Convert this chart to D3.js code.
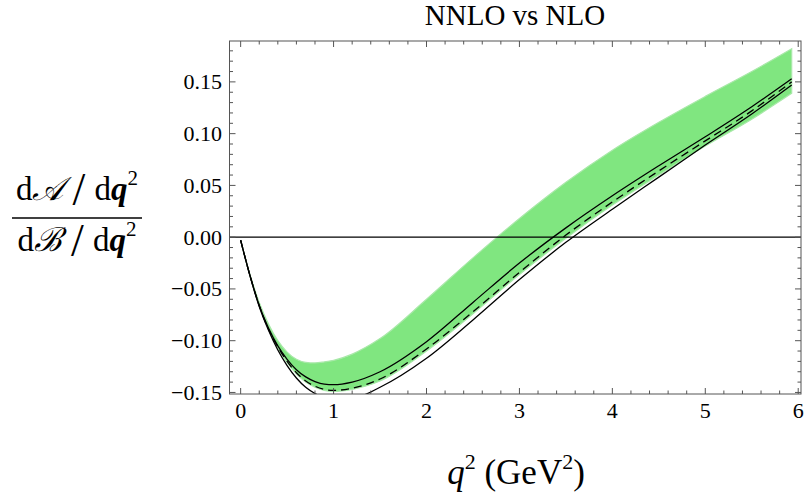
<!DOCTYPE html>
<html>
<head>
<meta charset="utf-8">
<script src="https://cdn.jsdelivr.net/npm/d3@7"></script>
<style>
body { margin: 0; background: #fff; }
text { font-family: "Liberation Serif", "DejaVu Serif", serif; fill: #000; }
</style>
</head>
<body>
<svg id="chart" width="806" height="498"></svg>
<script>
// q^2 grid (GeV^2) shared by all curves
var qGrid = [0, 0.1, 0.2, 0.3, 0.4, 0.5, 0.6, 0.7, 0.8, 0.9, 1.0, 1.2, 1.5, 2.0, 2.5, 3.0, 3.5, 4.0, 4.5, 5.0, 5.5, 5.93];

// green band (NNLO uncertainty), upper and lower edge
var bandHigh = [-0.003, -0.036, -0.063, -0.084, -0.100, -0.111, -0.118, -0.121, -0.1215, -0.1205, -0.119, -0.113, -0.098, -0.060, -0.020, 0.018, 0.053, 0.084, 0.111, 0.136, 0.160, 0.182];
var bandLow = [-0.003, -0.037, -0.066, -0.089, -0.107, -0.121, -0.132, -0.140, -0.145, -0.148, -0.149, -0.147, -0.139, -0.110, -0.074, -0.036, -0.001, 0.031, 0.060, 0.088, 0.114, 0.139];

// black curves
var solidUpper = [-0.003, -0.037, -0.066, -0.088, -0.105, -0.118, -0.128, -0.135, -0.1395, -0.142, -0.1425, -0.140, -0.130, -0.101, -0.063, -0.025, 0.009, 0.040, 0.069, 0.097, 0.126, 0.153];
var dashedMid = [-0.003, -0.037, -0.066, -0.089, -0.106, -0.120, -0.131, -0.139, -0.144, -0.147, -0.148, -0.146, -0.137, -0.108, -0.072, -0.034, 0.002, 0.034, 0.064, 0.093, 0.122, 0.150];
var solidLower = [-0.003, -0.037, -0.067, -0.090, -0.109, -0.124, -0.136, -0.145, -0.151, -0.155, -0.157, -0.156, -0.145, -0.117, -0.080, -0.041, -0.005, 0.027, 0.058, 0.089, 0.119, 0.147];

// axis ticks
var xTicks = [0, 1, 2, 3, 4, 5, 6];
var yTicks = [-0.15, -0.10, -0.05, 0.00, 0.05, 0.10, 0.15];

var svg = d3.select("#chart");
var pLeft = 229.5, pRight = 801, pTop = 41, pBottom = 394;

var x = d3.scaleLinear().domain([-0.12, 6.03]).range([pLeft, pRight]);
var y = d3.scaleLinear().domain([-0.1515, 0.1895]).range([pBottom, pTop]);

svg.append("defs").append("clipPath").attr("id", "plotclip")
    .append("rect").attr("x", pLeft).attr("y", pTop).attr("width", pRight - pLeft).attr("height", pBottom - pTop);

var plot = svg.append("g").attr("clip-path", "url(#plotclip)");

// band
var area = d3.area()
    .x(function(d, i){ return x(qGrid[i]); })
    .y0(function(d, i){ return y(bandLow[i]); })
    .y1(function(d, i){ return y(bandHigh[i]); })
    .curve(d3.curveMonotoneX);
plot.append("path").attr("d", area(qGrid))
    .attr("fill", "#80e680")
    .attr("stroke", "#a8e8a8").attr("stroke-width", 1.2);

// zero line
plot.append("line").attr("x1", pLeft).attr("x2", pRight)
    .attr("y1", y(0)).attr("y2", y(0))
    .attr("stroke", "#000").attr("stroke-width", 1.1);

function drawCurve(vals, dash){
    var line = d3.line()
        .x(function(d, i){ return x(qGrid[i]); })
        .y(function(d){ return y(d); })
        .curve(d3.curveMonotoneX);
    plot.append("path").attr("d", line(vals))
        .attr("fill", "none").attr("stroke", "#000").attr("stroke-width", 1.3)
        .attr("stroke-dasharray", dash);
}
drawCurve(solidUpper, null);
drawCurve(dashedMid, "8,5");
drawCurve(solidLower, null);

// frame
var frameColor = "#555";
svg.append("rect").attr("x", pLeft).attr("y", pTop).attr("width", pRight - pLeft).attr("height", pBottom - pTop)
    .attr("fill", "none").attr("stroke", frameColor).attr("stroke-width", 1);

// ticks, all four sides, pointing inward
var majLen = 6, minLen = 3.5;
var xMinor = d3.range(0, 6.01, 0.2);
var yMinor = d3.range(-0.15, 0.185, 0.01);
var tk = svg.append("g").attr("stroke", frameColor).attr("stroke-width", 1);
xMinor.forEach(function(v){
    var len = Math.abs(v - Math.round(v)) < 1e-6 ? majLen : minLen;
    tk.append("line").attr("x1", x(v)).attr("x2", x(v)).attr("y1", pBottom).attr("y2", pBottom - len);
    tk.append("line").attr("x1", x(v)).attr("x2", x(v)).attr("y1", pTop).attr("y2", pTop + len);
});
yMinor.forEach(function(v){
    var len = Math.abs(v * 20 - Math.round(v * 20)) < 1e-6 ? majLen : minLen;
    tk.append("line").attr("y1", y(v)).attr("y2", y(v)).attr("x1", pLeft).attr("x2", pLeft + len);
    tk.append("line").attr("y1", y(v)).attr("y2", y(v)).attr("x1", pRight).attr("x2", pRight - len);
});

// tick labels
svg.selectAll(".xl").data(xTicks).enter().append("text")
    .attr("x", function(d){ return x(d); }).attr("y", 418)
    .attr("text-anchor", "middle").attr("font-size", 22)
    .text(function(d){ return d; });
svg.selectAll(".yl").data(yTicks).enter().append("text")
    .attr("x", 222).attr("y", function(d){ return y(d) + 7.5; })
    .attr("text-anchor", "end").attr("font-size", 22)
    .text(function(d){ return (d < 0 ? "\u2212" : "") + Math.abs(d).toFixed(2); });

// title
svg.append("text").attr("x", 515).attr("y", 25).attr("text-anchor", "middle")
    .attr("font-size", 29).text("NNLO vs NLO");

// x axis label
var xl = svg.append("text").attr("x", 516).attr("y", 484).attr("text-anchor", "middle").attr("font-size", 35);
xl.append("tspan").attr("font-style", "italic").text("q");
xl.append("tspan").attr("font-size", 22).attr("dy", -15).text("2");
xl.append("tspan").attr("dy", 15).text(" (GeV");
xl.append("tspan").attr("font-size", 22).attr("dy", -15).text("2");
xl.append("tspan").attr("dy", 15).text(")");

// y axis label as a fraction
function fracPart(yb, script){
    var t = svg.append("text").attr("x", 77).attr("y", yb).attr("text-anchor", "middle").attr("font-size", 33);
    t.append("tspan").text("d");
    t.append("tspan").attr("font-style", "italic").text(script);
    t.append("tspan").attr("font-size", 46).attr("dy", 5).text("\u2009/\u2009");
    t.append("tspan").attr("dy", -5).text("d");
    t.append("tspan").attr("font-style", "italic").attr("font-weight", "bold").text("q");
    t.append("tspan").attr("font-size", 21).attr("dy", -15).text("2");
}
fracPart(200, "\uD835\uDC9C");
fracPart(251, "\u212C");
svg.append("line").attr("x1", 12).attr("x2", 142).attr("y1", 218).attr("y2", 218)
    .attr("stroke", "#000").attr("stroke-width", 1.3);
</script>
</body>
</html>
